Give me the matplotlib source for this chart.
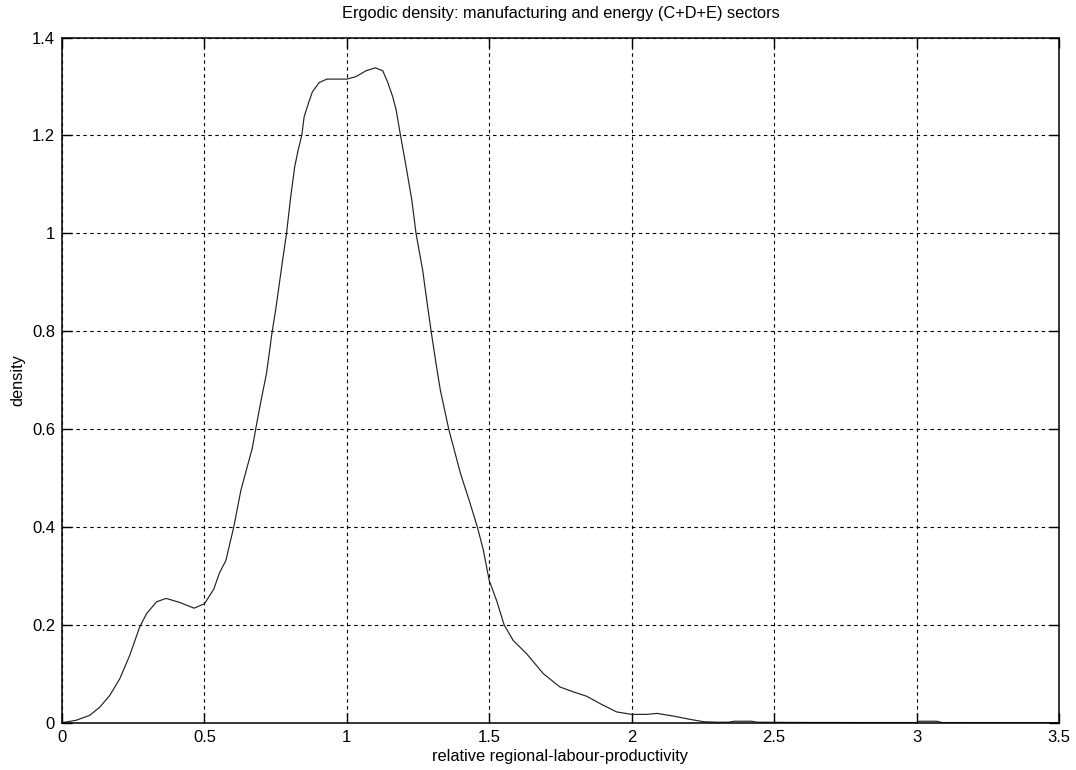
import matplotlib
matplotlib.use('Agg')
import matplotlib.pyplot as plt
from matplotlib.ticker import FuncFormatter

# values
x_vals = [0, 0.05, 0.097, 0.133, 0.168, 0.203, 0.238, 0.273, 0.297, 0.332,
          0.365, 0.412, 0.464, 0.50, 0.533, 0.552, 0.575, 0.603, 0.628, 0.668,
          0.680, 0.697, 0.718, 0.738, 0.750, 0.773, 0.788, 0.803, 0.817, 0.829,
          0.842, 0.850, 0.867, 0.879, 0.903, 0.930, 1.0, 1.032, 1.067, 1.100,
          1.126, 1.143, 1.161, 1.173, 1.188, 1.208, 1.228, 1.243, 1.266, 1.282,
          1.296, 1.313, 1.328, 1.358, 1.399, 1.429, 1.458, 1.479, 1.50, 1.526,
          1.552, 1.584, 1.631, 1.690, 1.748, 1.795, 1.842, 1.889, 1.947, 2.0,
          2.053, 2.088, 2.146, 2.205, 2.252, 2.30, 2.34, 2.36, 2.42, 2.44,
          2.6, 2.8, 3.0, 3.01, 3.07, 3.09, 3.3, 3.5]
density = [0, 0.005, 0.015, 0.032, 0.056, 0.090, 0.138, 0.196, 0.223, 0.247,
           0.254, 0.246, 0.234, 0.243, 0.273, 0.305, 0.331, 0.40, 0.475, 0.561,
           0.60, 0.653, 0.714, 0.80, 0.843, 0.939, 0.999, 1.075, 1.136, 1.170,
           1.201, 1.238, 1.269, 1.289, 1.308, 1.315, 1.315, 1.320, 1.332, 1.338,
           1.332, 1.309, 1.279, 1.252, 1.201, 1.136, 1.068, 0.999, 0.925, 0.857,
           0.799, 0.734, 0.680, 0.599, 0.509, 0.455, 0.40, 0.353, 0.290, 0.249,
           0.20, 0.168, 0.141, 0.100, 0.073, 0.063, 0.054, 0.039, 0.022, 0.017,
           0.017, 0.019, 0.0136, 0.0068, 0.002, 0.001, 0.001, 0.003, 0.003, 0.001,
           0.0005, 0.0003, 0.0003, 0.003, 0.003, 0.0003, 0.0002, 0.0001]

x_ticks = [0, 0.5, 1, 1.5, 2, 2.5, 3, 3.5]
y_ticks = [0, 0.2, 0.4, 0.6, 0.8, 1, 1.2, 1.4]

plt.rcParams['font.family'] = ['Liberation Sans', 'DejaVu Sans']
plt.rcParams['lines.scale_dashes'] = False

fig = plt.figure(figsize=(10.76, 7.7), dpi=100)
ax = fig.add_subplot(111)
fig.subplots_adjust(left=62/1076, right=1059/1076, bottom=(770-722.7)/770, top=(770-37.5)/770)

ax.plot(x_vals, density, color='#222222', lw=0.85)

ax.set_xlim(0, 3.5)
ax.set_ylim(0, 1.4)
ax.set_xticks(x_ticks)
ax.set_yticks(y_ticks)
fmt = FuncFormatter(lambda v, p: '%g' % v)
ax.xaxis.set_major_formatter(fmt)
ax.yaxis.set_major_formatter(fmt)
ax.grid(True, color='black', ls=(0, (2.5, 2.5)), lw=0.8)
ax.tick_params(direction='in', length=7, width=1, top=True, right=True,
               labelsize=12, pad=5)
for s in ax.spines.values():
    s.set_linewidth(1.1)

ax.set_title('Ergodic density: manufacturing and energy (C+D+E) sectors', fontsize=11.8, pad=14)
ax.set_xlabel('relative regional-labour-productivity', fontsize=11.8, labelpad=3)
ax.set_ylabel('density', fontsize=11.8, labelpad=5)

fig.savefig('out.png', dpi=100)
